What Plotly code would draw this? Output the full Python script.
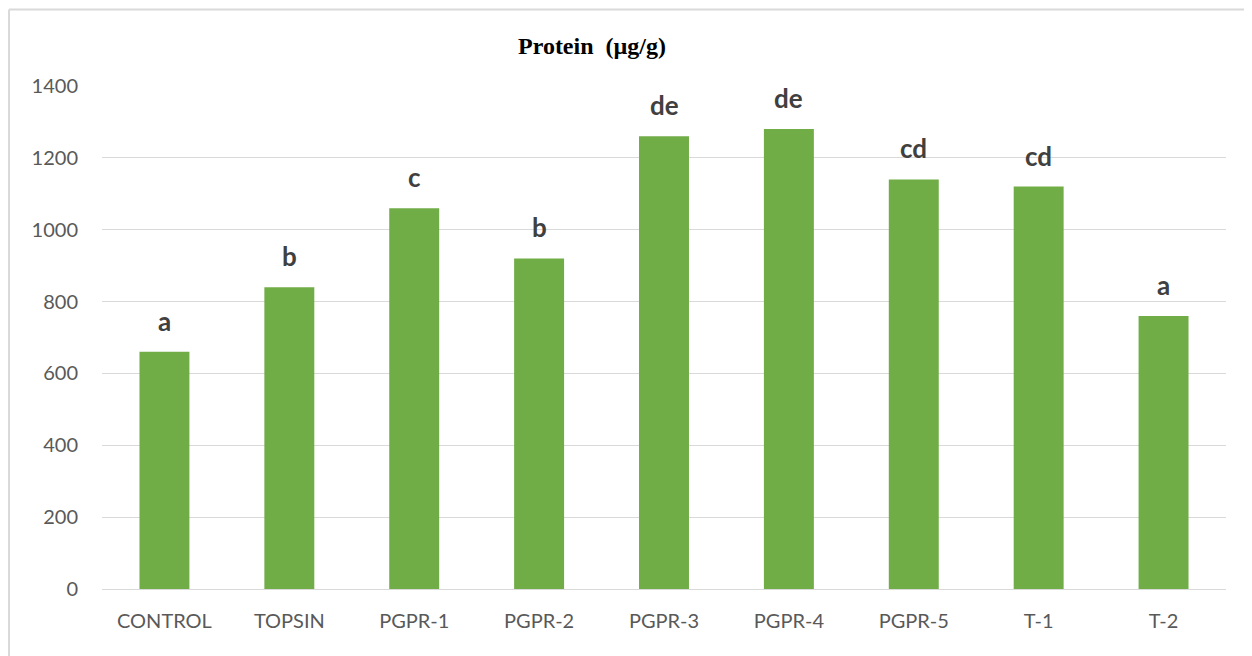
import plotly.graph_objects as go

categories = ["CONTROL", "TOPSIN", "PGPR-1", "PGPR-2", "PGPR-3", "PGPR-4", "PGPR-5", "T-1", "T-2"]
protein = [660, 840, 1060, 920, 1260, 1280, 1140, 1120, 760]
letters = ["a", "b", "c", "b", "de", "de", "cd", "cd", "a"]
y_ticks = [0, 200, 400, 600, 800, 1000, 1200, 1400]

fig = go.Figure()
fig.add_trace(go.Bar(
    x=categories, y=protein,
    marker=dict(color="#70AD47", line=dict(width=0)),
    width=0.4,
    hoverinfo="x+y",
))

for c, v, t in zip(categories, protein, letters):
    fig.add_annotation(
        x=c, y=v, text=t, showarrow=False, yanchor="bottom", yshift=13,
        font=dict(family="Lato", size=26, color="#404040", weight="bold"),
    )

fig.add_annotation(
    xref="paper", yref="paper", x=0.436, y=1.0795, text="<b>Protein  (µg/g)</b>",
    showarrow=False, xanchor="center", yanchor="middle",
    font=dict(family="Liberation Serif", size=24, color="#000000"),
)

# outer chart border (top and left visible; right/bottom fall outside the frame)
fig.add_shape(
    type="line", xref="paper", yref="paper",
    x0=-0.0827, x1=1.5, y0=1.152, y1=1.152,
    line=dict(color="#D9D9D9", width=2), layer="below",
)
fig.add_shape(
    type="line", xref="paper", yref="paper",
    x0=-0.0827, x1=-0.0827, y0=-0.5, y1=1.152,
    line=dict(color="#D9D9D9", width=2), layer="below",
)

fig.update_layout(
    width=1252, height=648,
    margin=dict(l=94, r=34, t=78, b=67),
    paper_bgcolor="white", plot_bgcolor="white",
    showlegend=False,
    bargap=0.6,
    font=dict(family="Lato", size=20, color="#595959"),
    xaxis=dict(
        showgrid=False, showline=False, ticks="", tickfont=dict(size=20, color="#595959"),
        ticklabelstandoff=18,
    ),
    yaxis=dict(
        range=[0, 1400], tickvals=y_ticks, showgrid=True, gridcolor="#D9D9D9", gridwidth=1,
        zeroline=True, zerolinecolor="#D9D9D9", zerolinewidth=1,
        showline=False, ticks="", tickfont=dict(size=20, color="#595959"),
        ticklabelstandoff=23,
    ),
)

fig.write_html("out.html")
